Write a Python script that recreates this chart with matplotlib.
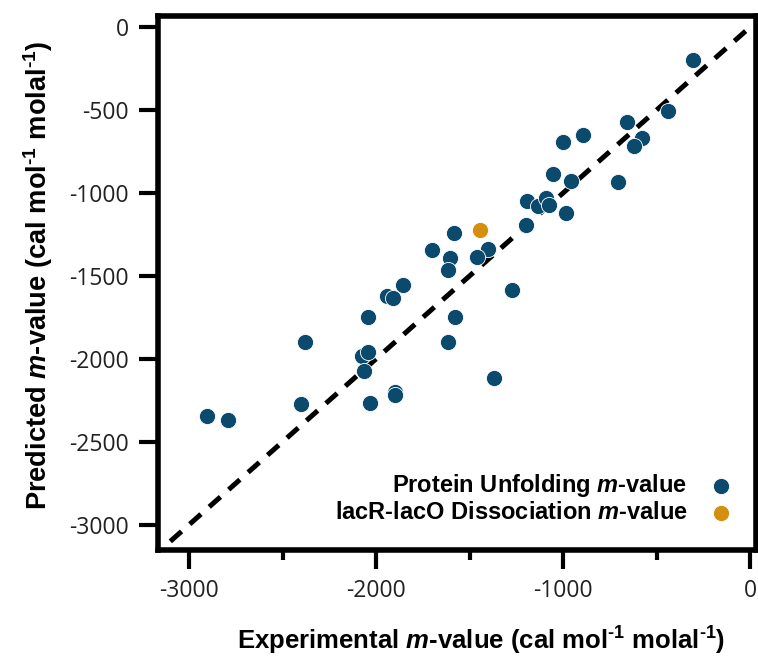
import matplotlib
matplotlib.use("Agg")
import matplotlib.pyplot as plt
from matplotlib.ticker import MultipleLocator

# experimental vs predicted m-values (cal mol^-1 molal^-1)
exp_protein = [-304, -441, -658, -892, -1000, -577, -618, -1054, -959, -705,
               -1194, -1136, -1090, -1075, -986, -1198, -1582, -1401, -1460,
               -1703, -1603, -1613, -1854, -1941, -1910, -1271, -2041, -1578,
               -2382, -1613, -2076, -2045, -2062, -1370, -2403, -2031, -1900,
               -1900, -2903, -2793]
pred_protein = [-200, -504, -569, -652, -694, -667, -714, -888, -929, -936,
                -1048, -1076, -1032, -1071, -1119, -1194, -1241, -1337, -1383,
                -1345, -1392, -1467, -1553, -1620, -1631, -1586, -1747, -1747,
                -1898, -1900, -1983, -1958, -2070, -2115, -2274, -2265, -2201,
                -2220, -2345, -2371]

exp_lacr = [-1443]
pred_lacr = [-1222]

# y = x reference
ident = [-3100, 0]

blue = "#0b4a6c"
orange = "#d58f0e"

plt.rcParams['axes.unicode_minus'] = False
plt.rcParams['mathtext.fontset'] = 'custom'
plt.rcParams['mathtext.rm'] = 'Liberation Sans:bold'
plt.rcParams['mathtext.it'] = 'Liberation Sans:bold:italic'

fig = plt.figure(figsize=(7.58, 6.60), dpi=100)
ax = fig.add_axes([0.2084, 0.1667, 0.789, 0.809])

ax.plot(ident, ident, color="black", lw=3.6, dashes=(3, 2.2), zorder=1)
ax.scatter(exp_protein, pred_protein, s=135, color=blue, edgecolors="white",
           linewidths=0.6, zorder=3, label="Protein Unfolding $\\it{m}$-value")
ax.scatter(exp_lacr, pred_lacr, s=135, color=orange, edgecolors="white",
           linewidths=0.6, zorder=3,
           label="lacR-lacO Dissociation $\\it{m}$-value")

ax.set_xlim(-3166, 32)
ax.set_ylim(-3152, 67)

for s in ax.spines.values():
    s.set_linewidth(4)

ax.xaxis.set_major_locator(MultipleLocator(1000))
ax.xaxis.set_minor_locator(MultipleLocator(500))
ax.yaxis.set_major_locator(MultipleLocator(500))
ax.tick_params(which="major", length=14, width=3, pad=7, direction="out",
               top=False, right=False)
ax.tick_params(which="minor", length=7, width=3, direction="out",
               top=False, right=False)
for lab in ax.get_xticklabels() + ax.get_yticklabels():
    lab.set_fontfamily("Open Sans")
    lab.set_fontsize(16.5)
    lab.set_color("#222222")

unit = "(cal mol$^{\u20101}$ molal$^{\u20101}$)"
ax.set_xlabel("Experimental $\\it{m}$-value " + unit,
              fontfamily="Liberation Sans", fontweight="bold", fontsize=18.5)
ax.set_ylabel("Predicted $\\it{m}$-value " + unit,
              fontfamily="Liberation Sans", fontweight="bold", fontsize=19.6)
ax.xaxis.set_label_coords(0.541, -0.14)
ax.yaxis.set_label_coords(-0.173, 0.514)

leg = ax.legend(loc="lower right", markerfirst=False, frameon=False,
                prop={"family": "Liberation Sans", "weight": "bold", "size": 17},
                handletextpad=1.0, labelspacing=0.08, borderaxespad=0.7,
                handlelength=0.8, scatterpoints=1)
for t in leg.get_texts():
    t.set_ha("right")

fig.savefig("out.png", dpi=100)
